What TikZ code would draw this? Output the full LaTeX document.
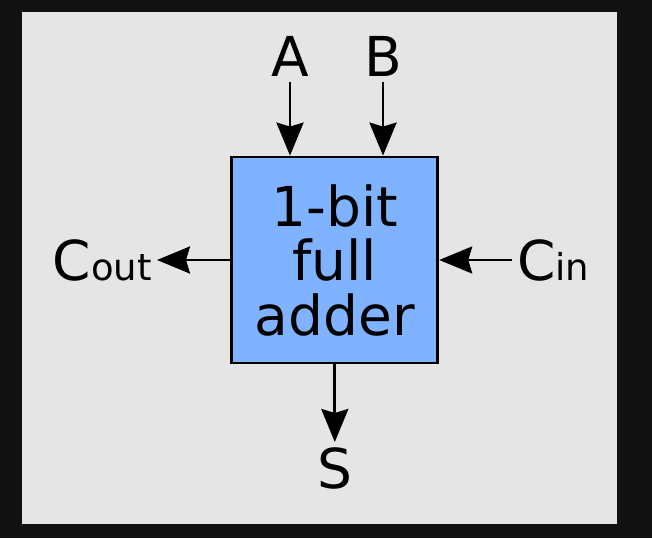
\documentclass[tikz,border=0pt]{standalone}
\usepackage{fontspec}
\setmainfont{DejaVu Sans}
\usetikzlibrary{arrows.meta}
\definecolor{frameblack}{HTML}{111111}
\definecolor{panelgray}{HTML}{E5E5E5}
\definecolor{adderblue}{HTML}{80B3FF}
\begin{document}
\begin{tikzpicture}[x=1pt, y=1pt,
    lbl/.style={inner sep=5pt, font=\fontsize{55}{55}\selectfont},
    adderbox/.style={draw=black, fill=adderblue, line width=2.8pt,
      minimum width=206pt, minimum height=206pt, align=center,
      font=\fontsize{55}{54.5}\selectfont},
    arr/.style={line width=2.8pt, -{Stealth[length=33pt 0 0, width=27pt 0 0, inset=4pt]}}]
    % frame and background panel
    \fill[frameblack] (0,0) rectangle (652,538);
    \fill[panelgray] (22,14) rectangle (617,526);
    \useasboundingbox (0,0) rectangle (652,538);
    % the adder block
    \node[adderbox] (fa) at (334.8,278) {1-bit\\full\\adder};
    % inputs and outputs
    \node[lbl, anchor=base] (A) at (290,461) {A};
    \node[lbl, anchor=base] (B) at (383,461) {B};
    \node[lbl, anchor=base] (S) at (334.8,50) {S};
    \node[lbl, anchor=east] (cout) at (157,278) {C{\fontsize{37}{37}\selectfont out}};
    \node[lbl, anchor=west] (cin) at (512,278) {C{\fontsize{37}{37}\selectfont in}};
    \draw[arr] (A) -- (A |- fa.north);
    \draw[arr] (B) -- (B |- fa.north);
    \draw[arr] (fa) -- (S);
    \draw[arr] (fa.west) -- (cout.east);
    \draw[arr] (cin.west) -- (fa.east);
\end{tikzpicture}
\end{document}
